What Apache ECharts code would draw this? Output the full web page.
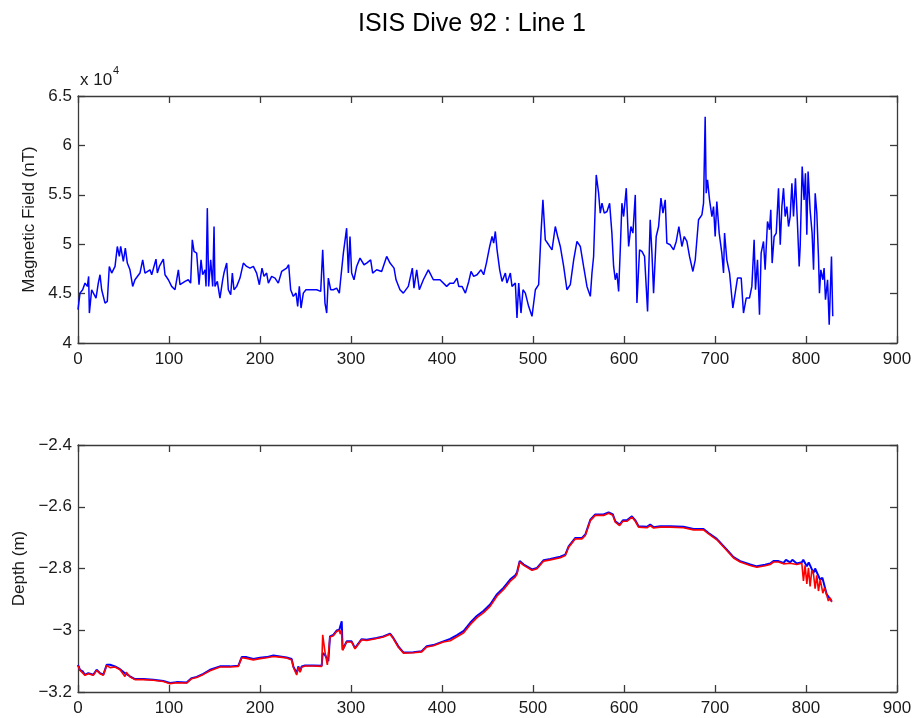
<!DOCTYPE html>
<html>
<head>
<meta charset="utf-8">
<script src="https://cdn.jsdelivr.net/npm/echarts@6/dist/echarts.min.js"></script>
<style>
html,body{margin:0;padding:0;background:#fff;}
#chart{width:916px;height:718px;}
</style>
</head>
<body>
<div id="chart"></div>
<script>
// ---- Data ----
const chartTitle = "ISIS Dive 92 : Line 1";

// Magnetic field, x-position and value in units of 1e4 nT
const magX = [0,2.2,5.1,7.7,10.3,11.7,12.5,15.0,16.8,19.8,22.3,24.2,26.0,29.7,32.2,34.4,37.0,40.7,43.2,45.4,46.9,49.8,52.0,54.2,57.1,60.1,62.6,68.1,71.1,73.6,79.1,81.0,85.7,87.2,89.4,93.8,95.6,99.3,102.9,106.6,110.3,112.1,117.6,121.2,123.8,125.6,127.5,130.4,133.0,135.2,137.0,139.6,140.7,142.1,143.6,145.8,148.0,149.5,150.5,153.1,156.0,159.0,160.4,163.4,165.2,167.8,169.6,171.4,174.4,178.0,181.7,185.3,189.0,192.7,196.3,199.3,202.2,204.4,207.3,209.2,212.8,216.5,220.1,223.8,229.3,231.5,233.7,236.6,239.6,241.4,243.2,245.1,247.6,250.5,256.8,262.3,266.7,268.9,271.4,273.3,275.1,277.7,280.6,284.2,287.2,288.6,291.6,295.2,297.1,298.9,300.7,303.3,306.2,309.9,314.3,317.2,321.6,323.8,328.2,333.7,339.2,342.9,347.3,349.5,353.8,357.5,363.0,367.4,369.2,372.2,375.1,379.5,385.0,390.5,397.8,405.1,408.8,412.9,416.5,418.4,422.0,425.7,429.4,431.9,434.8,438.5,442.9,445.8,448.8,452.4,455.0,456.8,458.6,460.5,463.4,466.0,469.6,471.4,475.1,476.9,480.6,482.4,484.3,486.8,489.0,491.6,495.2,498.9,502.6,506.2,508.8,510.9,513.5,517.2,520.9,524.5,527.1,530.0,533.7,537.3,541.0,544.7,548.3,552.0,555.6,559.3,563.0,564.8,566.6,569.5,572.1,573.9,575.8,578.3,581.3,584.2,586.7,588.6,590.4,592.2,594.1,595.9,597.7,599.6,602.5,605.1,607.6,609.8,612.4,614.2,617.1,619.7,622.6,625.9,628.8,630.7,632.5,635.4,638.0,640.6,642.8,645.3,647.1,650.8,654.5,657.4,660.3,663.6,666.2,669.1,672.0,675.7,678.3,681.9,685.6,687.4,689.2,690.3,691.8,694.0,696.6,698.4,700.2,702.0,704.6,707.5,709.4,710.5,713.0,716.0,719.6,722.2,724.7,728.8,731.3,734.3,737.9,740.5,743.0,744.5,746.7,748.9,750.7,753.3,755.1,757.7,759.9,761.3,762.8,765.0,767.3,769.8,771.7,773.5,775.3,777.1,779.0,780.8,782.6,784.5,786.3,788.4,790.6,792.5,793.6,795.8,797.9,799.4,800.9,802.3,804.5,806.7,808.3,810.1,811.9,813.7,814.8,816.3,818.5,819.9,821.4,823.7,825.5,826.9,828.0,829.4];
const magField = [4.337,4.505,4.539,4.606,4.573,4.674,4.303,4.539,4.556,4.455,4.606,4.691,4.539,4.404,4.421,4.775,4.708,4.775,4.977,4.876,4.977,4.825,4.960,4.809,4.741,4.573,4.640,4.708,4.842,4.708,4.741,4.691,4.849,4.708,4.775,4.849,4.691,4.640,4.573,4.539,4.741,4.590,4.623,4.640,4.606,5.044,4.927,4.910,4.590,4.842,4.691,4.741,4.573,5.365,4.573,4.842,4.573,5.179,4.573,4.623,4.455,4.640,4.708,4.809,4.539,4.489,4.708,4.539,4.573,4.657,4.809,4.775,4.758,4.775,4.708,4.590,4.758,4.674,4.708,4.606,4.674,4.657,4.606,4.724,4.758,4.792,4.539,4.472,4.505,4.371,4.573,4.354,4.505,4.539,4.539,4.539,4.522,4.943,4.404,4.303,4.657,4.539,4.539,4.556,4.505,4.640,4.910,5.162,4.708,5.078,4.708,4.640,4.775,4.859,4.792,4.809,4.842,4.708,4.741,4.724,4.876,4.809,4.758,4.640,4.539,4.505,4.573,4.758,4.556,4.741,4.539,4.640,4.741,4.640,4.640,4.573,4.606,4.606,4.657,4.573,4.573,4.505,4.623,4.724,4.674,4.691,4.741,4.691,4.809,4.977,5.078,5.011,5.129,4.943,4.741,4.623,4.708,4.606,4.708,4.573,4.606,4.253,4.606,4.303,4.539,4.505,4.371,4.270,4.539,4.590,5.112,5.449,5.044,4.994,4.943,5.179,5.078,4.977,4.775,4.539,4.590,4.842,5.028,4.977,4.775,4.573,4.472,4.708,4.876,5.701,5.516,5.314,5.415,5.314,5.331,5.415,5.112,4.775,4.640,4.708,4.522,4.943,5.415,5.280,5.567,4.977,5.179,5.112,5.499,4.404,4.943,4.927,4.876,4.320,5.247,4.910,4.505,5.078,5.179,5.466,5.314,5.449,5.011,4.994,4.943,5.028,5.179,4.977,5.078,5.028,4.876,4.724,4.842,5.247,5.297,5.415,6.291,5.516,5.651,5.449,5.280,5.381,5.078,5.432,5.112,4.910,4.708,5.112,4.842,4.708,4.354,4.505,4.657,4.657,4.303,4.455,4.455,4.573,5.044,4.539,4.842,4.286,4.910,5.028,4.741,5.230,5.146,5.348,4.809,5.078,5.112,5.567,4.994,5.381,5.567,5.280,5.381,5.179,5.280,5.617,5.280,5.668,5.213,4.775,4.977,5.786,5.449,5.718,5.095,5.735,5.348,5.112,4.741,5.516,5.314,4.876,4.505,4.741,4.640,4.758,4.438,4.640,4.185,4.573,4.876,4.270];

// Depth (blue trace)
const depthBlueX = [0,2.2,5.1,7.7,11.4,16.8,20.5,24.2,27.8,31.5,35.2,40.7,46.2,51.6,57.1,62.6,71.8,82.8,93.8,101.1,108.4,119.4,124.9,130.4,137.7,145.1,156.0,167.0,176.2,179.9,185.3,192.7,200.0,207.3,214.7,222.0,229.3,234.8,236.6,240.3,242.1,244.0,245.8,249.5,258.6,267.8,268.9,271.4,275.1,276.9,280.6,284.2,287.2,289.8,290.8,295.2,300.7,304.4,311.7,317.2,328.2,335.5,342.9,346.5,352.0,357.5,368.5,377.7,383.2,390.5,401.5,409.0,416.5,423.9,431.2,438.5,445.8,453.1,460.5,467.8,475.1,480.6,482.4,485.4,489.8,498.9,504.4,511.7,519.0,530.0,535.5,539.2,546.5,553.8,557.5,563.0,568.4,577.6,583.1,587.8,590.4,595.2,598.8,603.2,608.7,612.4,616.0,625.2,628.8,632.5,639.8,650.8,665.4,676.4,687.4,692.9,702.0,711.2,720.4,727.7,738.7,746.0,755.1,760.6,764.3,766.0,769.8,771.5,775.3,778.0,782.6,785.0,789.9,795.4,797.0,800.9,803.0,808.2,810.0,815.5,818.0,822.8,828.3];
const depthBlue = [-3.112,-3.128,-3.133,-3.144,-3.139,-3.144,-3.128,-3.139,-3.144,-3.112,-3.112,-3.117,-3.126,-3.139,-3.149,-3.158,-3.158,-3.160,-3.164,-3.171,-3.168,-3.169,-3.155,-3.151,-3.141,-3.128,-3.117,-3.117,-3.115,-3.087,-3.087,-3.093,-3.089,-3.087,-3.082,-3.085,-3.088,-3.093,-3.117,-3.139,-3.117,-3.133,-3.117,-3.114,-3.114,-3.115,-3.074,-3.080,-3.100,-3.020,-3.015,-3.001,-2.998,-2.971,-3.063,-3.036,-3.036,-3.058,-3.029,-3.031,-3.025,-3.020,-3.011,-3.025,-3.052,-3.072,-3.071,-3.068,-3.052,-3.048,-3.036,-3.028,-3.016,-3.002,-2.975,-2.953,-2.937,-2.916,-2.883,-2.862,-2.835,-2.822,-2.813,-2.776,-2.787,-2.803,-2.798,-2.773,-2.769,-2.762,-2.755,-2.728,-2.701,-2.701,-2.690,-2.642,-2.625,-2.625,-2.618,-2.625,-2.647,-2.658,-2.644,-2.644,-2.631,-2.644,-2.663,-2.665,-2.658,-2.666,-2.663,-2.663,-2.665,-2.672,-2.672,-2.685,-2.704,-2.733,-2.763,-2.776,-2.787,-2.793,-2.788,-2.784,-2.776,-2.770,-2.776,-2.770,-2.782,-2.772,-2.780,-2.772,-2.784,-2.780,-2.772,-2.793,-2.780,-2.814,-2.800,-2.836,-2.830,-2.884,-2.906];

// Depth (red trace)
const depthRedX = [0,2.2,5.1,7.7,11.4,16.8,20.5,24.2,27.8,31.5,35.2,40.7,46.2,51.6,53.0,57.1,62.6,71.8,82.8,93.8,101.1,108.4,119.4,124.9,130.4,137.7,145.1,156.0,167.0,176.2,179.9,185.3,192.7,200.0,207.3,214.7,222.0,229.3,234.8,236.6,240.3,242.1,244.0,245.8,249.5,258.6,267.8,268.9,271.4,274.0,276.9,280.6,284.2,287.2,288.2,289.4,290.8,295.2,300.7,304.4,311.7,317.2,328.2,335.5,342.9,346.5,352.0,357.5,368.5,377.7,383.2,390.5,401.5,409.0,416.5,423.9,431.2,438.5,445.8,453.1,460.5,467.8,475.1,480.6,482.4,485.4,489.8,498.9,504.4,511.7,519.0,530.0,535.5,539.2,546.5,553.8,557.5,563.0,568.4,577.6,583.1,587.8,590.4,595.2,598.8,603.2,608.7,612.4,616.0,625.2,628.8,632.5,639.8,650.8,665.4,676.4,687.4,692.9,702.0,711.2,720.4,727.7,738.7,746.0,755.1,760.6,764.3,769.8,775.3,782.6,789.9,795.4,797.2,799.0,800.9,802.7,804.5,806.4,808.2,810.0,811.9,813.7,815.6,817.4,818.5,820.4,822.8,824.6,826.5,828.3];
const depthRed = [-3.115,-3.130,-3.138,-3.146,-3.141,-3.146,-3.130,-3.141,-3.146,-3.114,-3.121,-3.119,-3.128,-3.150,-3.136,-3.151,-3.160,-3.160,-3.162,-3.166,-3.173,-3.170,-3.171,-3.157,-3.153,-3.143,-3.131,-3.119,-3.119,-3.117,-3.089,-3.091,-3.096,-3.092,-3.089,-3.085,-3.087,-3.090,-3.096,-3.120,-3.145,-3.120,-3.136,-3.120,-3.116,-3.116,-3.117,-3.015,-3.070,-3.112,-3.022,-3.018,-3.004,-3.000,-3.012,-3.000,-3.065,-3.038,-3.038,-3.060,-3.031,-3.033,-3.027,-3.022,-3.013,-3.027,-3.055,-3.074,-3.073,-3.070,-3.054,-3.050,-3.038,-3.034,-3.021,-3.008,-2.981,-2.959,-2.943,-2.922,-2.889,-2.868,-2.841,-2.827,-2.818,-2.779,-2.790,-2.806,-2.801,-2.776,-2.772,-2.765,-2.758,-2.731,-2.704,-2.704,-2.693,-2.645,-2.628,-2.628,-2.621,-2.628,-2.650,-2.661,-2.647,-2.647,-2.634,-2.647,-2.666,-2.668,-2.661,-2.669,-2.666,-2.666,-2.668,-2.675,-2.675,-2.688,-2.707,-2.736,-2.766,-2.779,-2.790,-2.796,-2.791,-2.787,-2.779,-2.779,-2.785,-2.783,-2.787,-2.783,-2.840,-2.790,-2.850,-2.798,-2.858,-2.806,-2.817,-2.865,-2.822,-2.873,-2.835,-2.840,-2.880,-2.862,-2.887,-2.905,-2.895,-2.909];

// ---- Build ----
function pairs(xs, ys){ return xs.map((x,i)=>[x, ys[i]]); }
const FONT = "Liberation Sans, Arial, Helvetica, sans-serif";
const axisCol = '#3a3a3a';
const txtCol = '#1a1a1a';

function baseAxis(extra){
  return Object.assign({
    axisLine:{show:true, onZero:false, lineStyle:{color:axisCol, width:1.3}},
    axisTick:{show:true, inside:true, length:7, lineStyle:{color:axisCol, width:1.3}},
    splitLine:{show:false},
    axisLabel:{color:txtCol, fontSize:17, fontFamily:FONT},
    nameTextStyle:{color:txtCol, fontSize:17, fontFamily:FONT}
  }, extra);
}
function fmtMinus(v){ return String(+v.toFixed(4)).replace('-', '\u2212'); }

const grids = [
  {left:78, right:19, top:96, height:247},
  {left:78, right:19, top:445, height:247}
];

const xAxes = [];
const yAxes = [];
[0,1].forEach(g=>{
  xAxes.push(baseAxis({type:'value', gridIndex:g, min:0, max:900, interval:100, position:'bottom',
    axisLabel:{color:txtCol, fontSize:17, fontFamily:FONT, margin:8}}));
  xAxes.push(baseAxis({type:'value', gridIndex:g, min:0, max:900, interval:100, position:'top',
    axisLabel:{show:false}}));
});
yAxes.push(baseAxis({type:'value', gridIndex:0, min:4, max:6.5, interval:0.5, position:'left',
  name:'Magnetic Field (nT)', nameLocation:'middle', nameGap:38, nameRotate:90,
  axisLabel:{color:txtCol, fontSize:17, fontFamily:FONT, margin:6, formatter:fmtMinus}}));
yAxes.push(baseAxis({type:'value', gridIndex:0, min:4, max:6.5, interval:0.5, position:'right',
  axisLabel:{show:false}}));
yAxes.push(baseAxis({type:'value', gridIndex:1, min:-3.2, max:-2.4, interval:0.2, position:'left',
  name:'Depth (m)', nameLocation:'middle', nameGap:50, nameRotate:90,
  axisLabel:{color:txtCol, fontSize:17, fontFamily:FONT, margin:6, formatter:fmtMinus}}));
yAxes.push(baseAxis({type:'value', gridIndex:1, min:-3.2, max:-2.4, interval:0.2, position:'right',
  axisLabel:{show:false}}));

const option = {
  animation:false,
  backgroundColor:'#fff',
  title:{text:chartTitle, left:353, top:7, itemGap:0,
    textStyle:{fontSize:25, fontWeight:'normal', color:'#000', fontFamily:FONT}},
  grid:grids,
  xAxis:xAxes,
  yAxis:yAxes,
  graphic:[
    {type:'text', left:80, top:72, style:{text:'x 10', fontSize:17, fontFamily:FONT, fill:txtCol}},
    {type:'text', left:113, top:65, style:{text:'4', fontSize:11, fontFamily:FONT, fill:txtCol}}
  ],
  series:[
    {type:'line', xAxisIndex:0, yAxisIndex:0, data:pairs(magX, magField), showSymbol:false,
      lineStyle:{color:'#0000ff', width:1.5}},
    {type:'line', xAxisIndex:2, yAxisIndex:2, data:pairs(depthBlueX, depthBlue), showSymbol:false,
      lineStyle:{color:'#0000ff', width:2}},
    {type:'line', xAxisIndex:2, yAxisIndex:2, data:pairs(depthRedX, depthRed), showSymbol:false,
      lineStyle:{color:'#ff0000', width:1.6}}
  ]
};
const chart = echarts.init(document.getElementById('chart'), null, {renderer:'canvas'});
chart.setOption(option);
</script>
</body>
</html>
